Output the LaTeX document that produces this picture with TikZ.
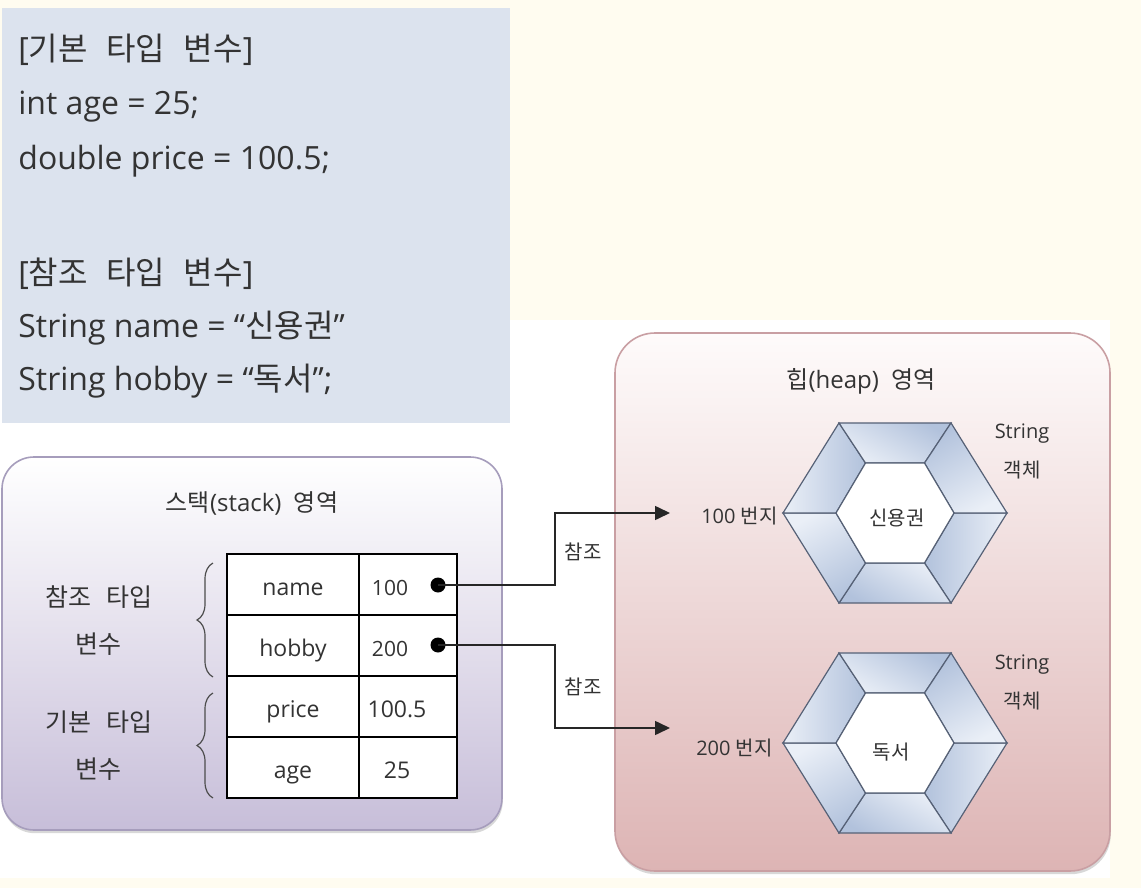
\documentclass[tikz,border=0pt]{standalone}
\usepackage{fontspec}
\setmainfont{Open Sans}
\newfontfamily\krfont{Noto Sans CJK KR}[WordSpace=2.6]
\newcommand{\kr}[1]{{\krfont #1}}
\usetikzlibrary{arrows.meta, positioning, shadows, decorations.pathreplacing}

\definecolor{creambg}{HTML}{FFFCF0}
\definecolor{codebg}{HTML}{DCE3EE}
\definecolor{inktext}{HTML}{333333}
\definecolor{stackbot}{HTML}{C7BED9}
\definecolor{stackline}{HTML}{A69DBC}
\definecolor{heaptop}{HTML}{FEFBFB}
\definecolor{heapbot}{HTML}{DDB4B4}
\definecolor{heapline}{HTML}{C99FA3}
\definecolor{hexdark}{HTML}{B2C2DC}
\definecolor{hexlight}{HTML}{EAEFF7}
\definecolor{hexline}{HTML}{566176}

\tikzset{
  codeline/.style={anchor=west, inner sep=0pt, text height=1em, text depth=.25em, font=\fontsize{16}{19}\selectfont},
  cell/.style={draw=black, line width=0.6pt, fill=white, minimum width=66pt, minimum height=30.5pt, inner sep=0pt,
    text height=1.25em, text depth=.15em, font=\fontsize{11.5}{13}\selectfont},
  valcell/.style={cell, minimum width=49pt},
  valtext/.style={inner sep=0pt, text height=1.25em, text depth=.15em, font=\fontsize{11.5}{13}\selectfont},
  sidelabel/.style={align=center, inner sep=0pt, font=\krfont\fontsize{12.5}{23.5}\selectfont},
  regionbox/.style={rounded corners=16pt, inner sep=0pt, line width=0.8pt,
    drop shadow={opacity=0.3, shadow xshift=0.4pt, shadow yshift=-1.6pt}},
  dot/.style={circle, fill=black, inner sep=0pt, minimum size=7.5pt},
  refline/.style={draw=black!85, line width=0.8pt, ->},
  smalltext/.style={inner sep=0pt, font=\fontsize{10}{19.5}\selectfont, align=center},
  hexband/.style={top color=hexdark, bottom color=hexlight, draw=hexline, line width=0.6pt},
  bracemark/.style={draw=black!70, line width=0.6pt, decorate, decoration={brace, amplitude=8pt}}
}

\begin{document}
\begin{tikzpicture}[x=0.5pt, y=-0.5pt, >={Triangle[length=7.5pt,width=7pt]}, text=inktext]
  \useasboundingbox (0,0) rectangle (1141,888);
  \fill[creambg] (0,0) rectangle (1141,888);
  \fill[white] (0,320) rectangle (1110,878);

  % declarations
  \node (codebox) [fill=codebg, inner sep=0pt, minimum width=254pt, minimum height=207.5pt] at (256,215.5) {};
  \node (code1) [codeline] at (18,53) {[\kr{기본 타입 변수}]};
  \node (code2) [codeline] at (18,107) {int age = 25;};
  \node (code3) [codeline] at (18,162) {double price = 100.5;};
  \node (code4) [codeline] at (18,277) {[\kr{참조 타입 변수}]};
  \node (code5) [codeline] at (18,330) {String name = “\kr{신용권}”};
  \node (code6) [codeline] at (18,383) {String hobby = “\kr{독서}”;};

  % stack
  \node (stack) [regionbox, draw=stackline, top color=white, bottom color=stackbot,
    minimum width=250pt, minimum height=186.5pt] at (252,643.5) {};
  \node (stacktitle) [font=\fontsize{12}{14}\selectfont] at (252,503) {\kr{스택}(stack)~~\kr{영역}};

  \node (kname)  [cell] at (293,584.5) {name};
  \node (khobby) [cell] at (293,645.5) {hobby};
  \node (kprice) [cell] at (293,706.5) {price};
  \node (kage)   [cell] at (293,767.5) {age};
  \node (vname)  [valcell] at (408,584.5) {};
  \node (vhobby) [valcell] at (408,645.5) {};
  \node (vprice) [valcell] at (408,706.5) {};
  \node (vage)   [valcell] at (408,767.5) {};
  \node (tname)  [valtext, font=\fontsize{10.5}{12}\selectfont] at (390,584.5) {100};
  \node (thobby) [valtext, font=\fontsize{10.5}{12}\selectfont] at (390,645.5) {200};
  \node (tprice) [valtext] at (397,706.5) {100.5};
  \node (tage)   [valtext] at (397,767.5) {25};
  \node (dot1) [dot] at (438,585) {};
  \node (dot2) [dot] at (438,645) {};

  \coordinate (brace1a) at (213,677);
  \coordinate (brace1b) at (213,563);
  \coordinate (brace2a) at (213,798);
  \coordinate (brace2b) at (213,693);
  \draw[bracemark] (brace1a) -- (brace1b);
  \draw[bracemark] (brace2a) -- (brace2b);
  \node (reflbl)  [sidelabel] at (99,621) {참조 타입\\변수};
  \node (primlbl) [sidelabel] at (99,746) {기본 타입\\변수};

  % heap
  \node (heap) [regionbox, rounded corners=20pt, draw=heapline, top color=heaptop, bottom color=heapbot,
    minimum width=247.5pt, minimum height=269pt] at (862.5,602) {};
  \node (heaptitle) [font=\fontsize{12}{14}\selectfont] at (861,381) {\kr{힙}(heap)~~\kr{영역}};

  \foreach \cy in {513,743} {
    \foreach \k in {0,...,5} {
      \pgfmathsetmacro\ang{60*\k+90}
      \shadedraw[hexband, shading angle=\ang]
        ({895+112*cos(60*\k)},{\cy+104*sin(60*\k)}) -- ({895+112*cos(60*(\k+1))},{\cy+104*sin(60*(\k+1))})
        -- ({895+59*cos(60*(\k+1))},{\cy+57.7*sin(60*(\k+1))}) -- ({895+59*cos(60*\k)},{\cy+57.7*sin(60*\k)}) -- cycle;
    }
    \draw[fill=white, draw=hexline, line width=0.6pt] (954,\cy)
      \foreach \k in {1,...,5} { -- ({895+59*cos(60*\k)},{\cy+57.7*sin(60*\k)}) } -- cycle;
  }

  \node (obj1) [smalltext] at (897,518) {\kr{신용권}};
  \node (obj2) [smalltext] at (891,752) {\kr{독서}};
  \node (addr1) [smalltext, anchor=east] at (778,516) {100 \kr{번지}};
  \node (addr2) [smalltext, anchor=east] at (773,748) {200 \kr{번지}};
  \node (kind1) [smalltext] at (1022,451) {String\\\kr{객체}};
  \node (kind2) [smalltext] at (1022,682) {String\\\kr{객체}};

  % references
  \coordinate (tip1) at (670,513);
  \coordinate (tip2) at (670,728);
  \draw[refline] (dot1.center) -- ++(117,0) |- (tip1);
  \draw[refline] (dot2.center) -- ++(117,0) |- (tip2);
  \node (ref1) [smalltext] at (583,552) {\kr{참조}};
  \node (ref2) [smalltext] at (583,687) {\kr{참조}};
\end{tikzpicture}
\end{document}
